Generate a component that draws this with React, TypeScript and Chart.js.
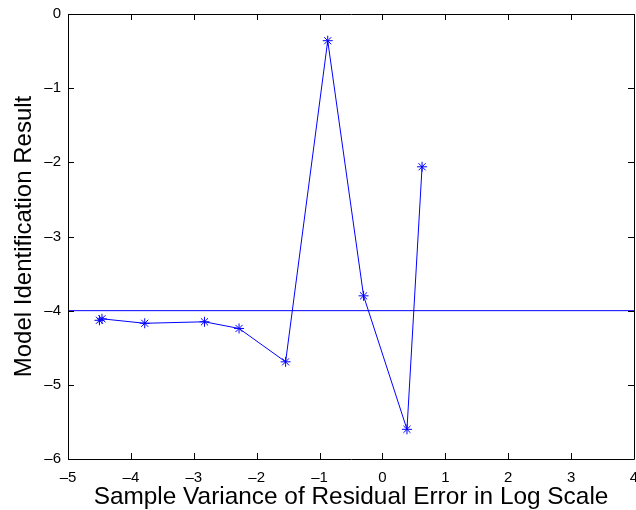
import React, { useEffect, useRef } from "react";
import { Chart, registerables } from "chart.js";

Chart.register(...registerables);

const xValues = [-4.50, -4.46, -3.78, -2.83, -2.28, -1.54, -0.87, -0.30, 0.39, 0.63];
const yValues = [-4.13, -4.11, -4.17, -4.15, -4.24, -4.69, -0.36, -3.80, -5.60, -2.06];
const refLineX = [-5, 4];
const refLineY = [-4, -4];
const xTicks = [-5, -4, -3, -2, -1, 0, 1, 2, 3, 4];
const yTicks = [0, -1, -2, -3, -4, -5, -6];

const fmt = (v: number) => (v < 0 ? "\u2013" + Math.abs(v) : String(v));
const FONT = "Liberation Sans, Arial, Helvetica, sans-serif";

const boxPlugin = {
  id: "matlabBox",
  afterDatasetsDraw(chart: any) {
    const { ctx, chartArea, scales } = chart;
    const { left, right, top, bottom } = chartArea;
    ctx.save();
    ctx.strokeStyle = "#000";
    ctx.lineWidth = 1;
    ctx.beginPath();
    ctx.rect(Math.round(left) + 0.5, Math.round(top) + 0.5, Math.round(right - left), Math.round(bottom - top));
    ctx.stroke();
    const len = 6;
    ctx.beginPath();
    for (const t of xTicks) {
      const px = Math.round(scales.x.getPixelForValue(t)) + 0.5;
      ctx.moveTo(px, bottom);
      ctx.lineTo(px, bottom - len);
      ctx.moveTo(px, top);
      ctx.lineTo(px, top + len);
    }
    for (const t of yTicks) {
      const py = Math.round(scales.y.getPixelForValue(t)) + 0.5;
      ctx.moveTo(left, py);
      ctx.lineTo(left + len, py);
      ctx.moveTo(right, py);
      ctx.lineTo(right - len, py);
    }
    ctx.stroke();
    ctx.restore();
  },
};

export default function App() {
  const ref = useRef<HTMLCanvasElement | null>(null);
  useEffect(() => {
    document.body.style.margin = "0";
    const canvas = ref.current!;
    const chart = new Chart(canvas, {
      type: "scatter",
      data: {
        datasets: [
          {
            data: xValues.map((x, i) => ({ x, y: yValues[i] })),
            showLine: true,
            borderColor: "#0000ff",
            backgroundColor: "#0000ff",
            borderWidth: 1,
            pointStyle: "star",
            pointRadius: 5,
            pointBorderColor: "#0000ff",
            pointBorderWidth: 1,
          },
          {
            data: refLineX.map((x, i) => ({ x, y: refLineY[i] })),
            showLine: true,
            borderColor: "#0000ff",
            borderWidth: 1,
            pointRadius: 0,
          },
        ],
      },
      options: {
        responsive: false,
        animation: false,
        layout: { padding: { top: 14, right: 1, left: 0, bottom: 0 } },
        plugins: { legend: { display: false }, tooltip: { enabled: false } },
        scales: {
          x: {
            type: "linear",
            min: -5,
            max: 4,
            afterBuildTicks: (s: any) => {
              s.ticks = xTicks.map((v) => ({ value: v }));
            },
            afterFit: (s: any) => {
              s.height = 51;
              s.paddingLeft = 0;
              s.paddingRight = 0;
            },
            grid: { display: false, drawTicks: false },
            border: { display: false },
            ticks: {
              color: "#000",
              padding: 10,
              maxRotation: 0,
              autoSkip: false,
              font: { family: FONT, size: 15 },
              callback: (v: any) => fmt(Number(v)),
            },
            title: {
              display: true,
              text: "Sample Variance of Residual Error in Log Scale",
              color: "#000",
              font: { family: FONT, size: 24.4, lineHeight: 1.05 },
              padding: { top: 0, bottom: 0 },
            },
          },
          y: {
            type: "linear",
            min: -6,
            max: 0,
            afterBuildTicks: (s: any) => {
              s.ticks = yTicks.map((v) => ({ value: v }));
            },
            afterFit: (s: any) => {
              s.width = 68;
              s.paddingTop = 0;
              s.paddingBottom = 0;
            },
            grid: { display: false, drawTicks: false },
            border: { display: false },
            ticks: {
              color: "#000",
              padding: 7,
              autoSkip: false,
              font: { family: FONT, size: 15 },
              callback: (v: any) => fmt(Number(v)),
            },
            title: {
              display: true,
              text: "Model Identification Result",
              color: "#000",
              font: { family: FONT, size: 24, lineHeight: 1.05 },
              padding: { top: 12, bottom: 0 },
            },
          },
        },
      },
      plugins: [boxPlugin],
    } as any);
    return () => chart.destroy();
  }, []);
  return (
    <div style={{ position: "absolute", left: 0, top: 0, width: 636, height: 510, background: "#fff", overflow: "hidden" }}>
      <canvas ref={ref} width={640} height={510} style={{ width: 640, height: 510 }} />
    </div>
  );
}
